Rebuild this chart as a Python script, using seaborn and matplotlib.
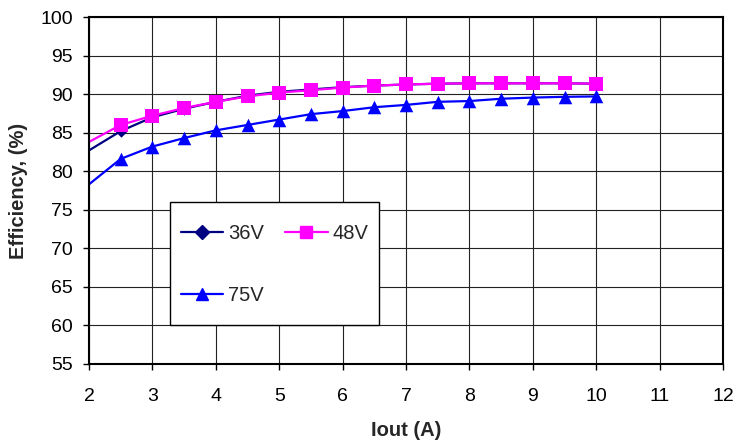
import matplotlib
matplotlib.use("Agg")
import matplotlib.pyplot as plt
from matplotlib.lines import Line2D
from matplotlib.patches import Rectangle
import seaborn as sns
import pandas as pd

# load currents (A); first point only carries the line, no marker
iout = [2, 2.5, 3, 3.5, 4, 4.5, 5, 5.5, 6, 6.5, 7, 7.5, 8, 8.5, 9, 9.5, 10]
eff_36v = [82.7, 85.2, 87.0, 88.1, 89.0, 89.8, 90.3, 90.6, 90.9, 91.1, 91.25, 91.35, 91.4, 91.4, 91.4, 91.4, 91.35]
eff_48v = [83.8, 86.0, 87.2, 88.2, 89.0, 89.7, 90.2, 90.5, 90.85, 91.1, 91.25, 91.35, 91.4, 91.4, 91.4, 91.4, 91.35]
eff_75v = [78.3, 81.6, 83.2, 84.3, 85.3, 86.0, 86.7, 87.4, 87.8, 88.3, 88.6, 89.0, 89.1, 89.4, 89.55, 89.65, 89.7]

series = ["36V", "48V", "75V"]
colors = {"36V": "#000080", "48V": "#FF00FF", "75V": "#0000FF"}
markers = {"36V": "D", "48V": "s", "75V": "^"}
sizes = {"36V": 40, "48V": 95, "75V": 95}

df = pd.concat([
    pd.DataFrame({"Iout": iout, "Eff": eff_36v, "Vin": "36V"}),
    pd.DataFrame({"Iout": iout, "Eff": eff_48v, "Vin": "48V"}),
    pd.DataFrame({"Iout": iout, "Eff": eff_75v, "Vin": "75V"}),
], ignore_index=True)

sns.set_theme(style="white")
plt.rcParams["font.family"] = ["Liberation Sans", "DejaVu Sans"]

fig = plt.figure(figsize=(7.37, 4.44), dpi=100)
ax = fig.add_axes([89 / 737, 1 - 364 / 444, 634 / 737, 347 / 444])

# gridlines first
ax.set_xlim(2, 12)
ax.set_ylim(55, 100)
ax.set_xticks(range(2, 13))
ax.set_yticks(range(55, 101, 5))
ax.grid(True, color="#222222", linewidth=0.8)
ax.set_axisbelow(True)

sns.lineplot(data=df, x="Iout", y="Eff", hue="Vin", palette=colors,
             linewidth=1.6, legend=False, ax=ax, sort=True)
marked = df[df["Iout"] > 2]
for s in series:
    sub = marked[marked["Vin"] == s]
    sns.scatterplot(data=sub, x="Iout", y="Eff", color=colors[s], marker=markers[s],
                    s=sizes[s], edgecolor=colors[s], linewidth=0, legend=False, ax=ax, zorder=3)

ax.set_xlabel("Iout (A)", fontsize=14.5, fontweight="bold", labelpad=11)
ax.set_ylabel("Efficiency, (%)", fontsize=14.5, fontweight="bold", labelpad=9)
ax.tick_params(axis="y", pad=7)
ax.tick_params(axis="x", pad=13)
ax.tick_params(axis="both", labelsize=14, direction="out", length=4.5, width=1,
               color="black", labelcolor="black", left=True, bottom=True)
for side in ["left", "bottom", "top", "right"]:
    ax.spines[side].set_color("black")
    ax.spines[side].set_linewidth(1.5)

# legend box drawn separately so the padding can differ top/side
fig.patches.append(Rectangle((170 / 737, 1 - 325 / 444), 209 / 737, 123 / 444,
                             transform=fig.transFigure, facecolor="white",
                             edgecolor="black", linewidth=1.0, zorder=4))

# legend: 36V, 48V on first row, 75V below
handles = {s: Line2D([], [], color=colors[s], marker=markers[s], linewidth=1.6,
                     markersize=7 if s == "36V" else 9) for s in series}
order = ["36V", "75V", "48V"]
leg = fig.legend([handles[s] for s in order], order, ncol=2, loc="upper left",
                 bbox_to_anchor=(181 / 737, 1 - 224 / 444), bbox_transform=fig.transFigure,
                 fontsize=14.5, handlelength=2.1, labelspacing=2.15,
                 columnspacing=1.05, borderpad=0, handletextpad=0.25, borderaxespad=0,
                 frameon=False)
leg.set_zorder(5)

fig.savefig("out.png", dpi=100)
